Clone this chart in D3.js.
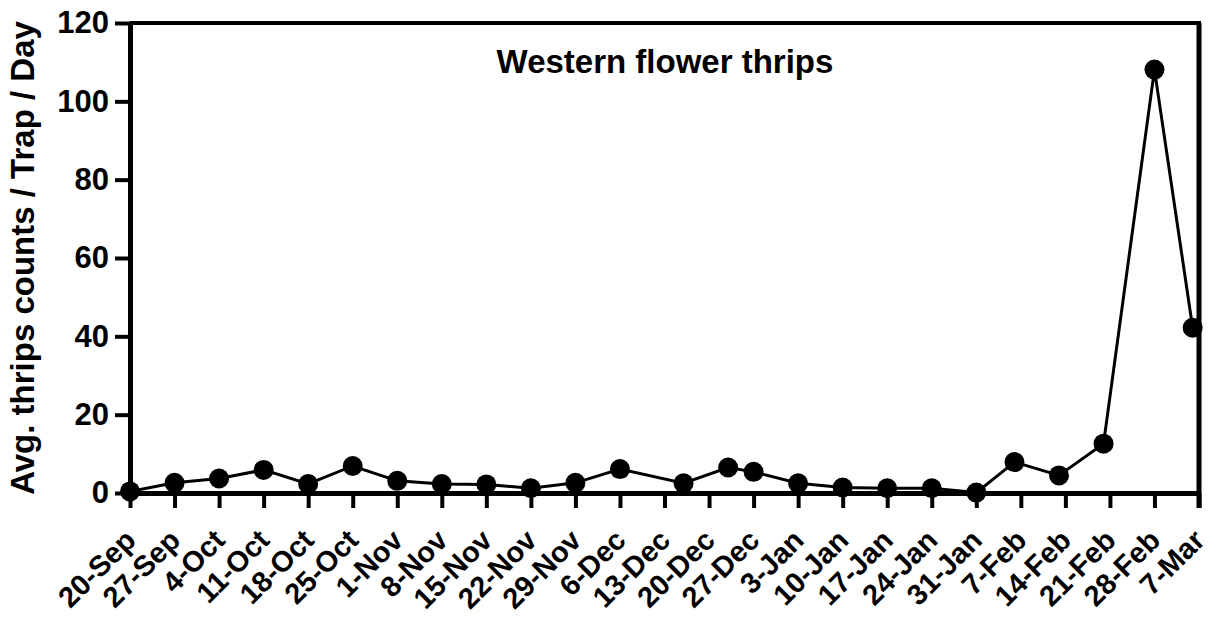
<!DOCTYPE html>
<html>
<head>
<meta charset="utf-8">
<script src="https://cdn.jsdelivr.net/npm/d3@7"></script>
<style>
  body { margin: 0; background: #fff; }
  text { font-family: "Liberation Sans", Arial, sans-serif; font-weight: bold; }
</style>
</head>
<body>
<div id="grafico"></div>
<script>
// fechas de muestreo y conteos
const fechas = ["2020-09-20","2020-09-27","2020-10-04","2020-10-11","2020-10-18","2020-10-25",
  "2020-11-01","2020-11-08","2020-11-15","2020-11-22","2020-11-29","2020-12-06","2020-12-16",
  "2020-12-23","2020-12-27","2021-01-03","2021-01-10","2021-01-17","2021-01-24","2021-01-31",
  "2021-02-06","2021-02-13","2021-02-20","2021-02-28","2021-03-06"];
const conteos = [0.4, 2.6, 3.7, 5.9, 2.3, 6.9, 3.1, 2.3, 2.2, 1.2, 2.6, 6.1, 2.5,
  6.5, 5.4, 2.5, 1.4, 1.2, 1.2, 0.1, 7.9, 4.5, 12.6, 108.1, 42.2];

const ticksX = ["2020-09-20","2020-09-27","2020-10-04","2020-10-11","2020-10-18","2020-10-25",
  "2020-11-01","2020-11-08","2020-11-15","2020-11-22","2020-11-29","2020-12-06","2020-12-13",
  "2020-12-20","2020-12-27","2021-01-03","2021-01-10","2021-01-17","2021-01-24","2021-01-31",
  "2021-02-07","2021-02-14","2021-02-21","2021-02-28","2021-03-07"];
const ticksY = [0, 20, 40, 60, 80, 100, 120];

const titulo = "Western flower thrips";
const etiquetaY = "Avg. thrips counts / Trap / Day";

const ancho = 1219, alto = 617;
const izq = 130, der = 1199, arriba = 23, abajo = 493;

const parse = d3.utcParse("%Y-%m-%d");
const formato = d3.utcFormat("%-d-%b");

const datos = fechas.map((f, i) => ({fecha: parse(f), valor: conteos[i]}));

const svg = d3.select("#grafico").append("svg")
    .attr("width", ancho)
    .attr("height", alto);

const x = d3.scaleUtc()
    .domain([parse(ticksX[0]), parse(ticksX[ticksX.length - 1])])
    .range([izq, der]);
const y = d3.scaleLinear()
    .domain([0, 120])
    .range([abajo, arriba]);

// eje x
const ejeX = svg.append("g")
    .attr("transform", `translate(0,${abajo})`)
    .call(d3.axisBottom(x)
        .tickValues(ticksX.map(parse))
        .tickFormat(formato)
        .tickSize(15)
        .tickSizeOuter(0));
ejeX.select(".domain").attr("stroke-width", 5).attr("stroke", "#000");
ejeX.selectAll(".tick line").attr("stroke-width", 4).attr("stroke", "#000");
ejeX.selectAll(".tick text")
    .attr("font-size", 29)
    .attr("fill", "#000")
    .attr("text-anchor", "end")
    .attr("dy", null)
    .attr("y", null)
    .attr("transform", "translate(7,49) rotate(-45)");

// eje y
const ejeY = svg.append("g")
    .attr("transform", `translate(${izq},0)`)
    .call(d3.axisLeft(y)
        .tickValues(ticksY)
        .tickSize(15)
        .tickSizeOuter(0));
ejeY.select(".domain").attr("stroke-width", 5).attr("stroke", "#000");
ejeY.selectAll(".tick line").attr("stroke-width", 4).attr("stroke", "#000");
ejeY.selectAll(".tick text")
    .attr("font-size", 31)
    .attr("fill", "#000")
    .attr("x", -21);

// marco superior y derecho
svg.append("line")
    .attr("x1", izq).attr("x2", der + 2)
    .attr("y1", arriba).attr("y2", arriba)
    .attr("stroke", "#000").attr("stroke-width", 4);
svg.append("line")
    .attr("x1", der).attr("x2", der)
    .attr("y1", arriba).attr("y2", abajo + 15)
    .attr("stroke", "#000").attr("stroke-width", 5);

// serie
const linea = d3.line()
    .x(d => x(d.fecha))
    .y(d => y(d.valor));

svg.append("path")
    .datum(datos)
    .attr("d", linea)
    .attr("fill", "none")
    .attr("stroke", "#000")
    .attr("stroke-width", 3);

svg.selectAll("circle")
    .data(datos)
    .join("circle")
    .attr("cx", d => x(d.fecha))
    .attr("cy", d => y(d.valor))
    .attr("r", 10)
    .attr("fill", "#000");

// textos
svg.append("text")
    .attr("x", 665)
    .attr("y", 73)
    .attr("text-anchor", "middle")
    .attr("font-size", 33)
    .text(titulo);

svg.append("text")
    .attr("transform", `translate(34,${(arriba + abajo) / 2}) rotate(-90)`)
    .attr("text-anchor", "middle")
    .attr("font-size", 33)
    .text(etiquetaY);
</script>
</body>
</html>
